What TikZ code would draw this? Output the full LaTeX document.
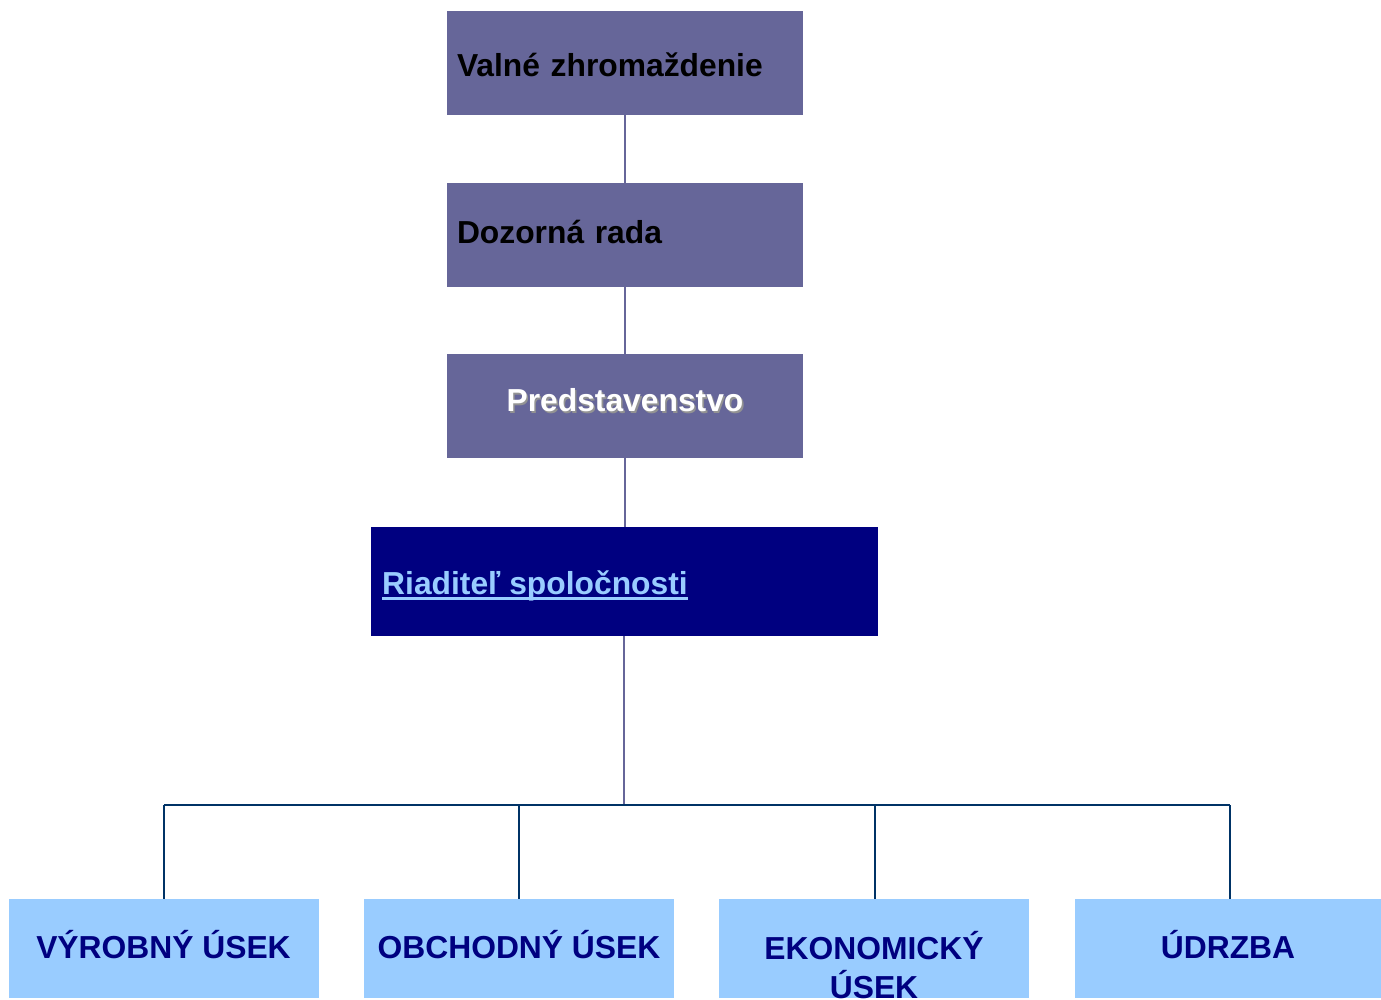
\documentclass[tikz,border=0pt]{standalone}
\usepackage{fontspec}
\setmainfont{Liberation Sans}
\definecolor{boxpurple}{HTML}{666699}
\definecolor{navybox}{HTML}{000080}
\definecolor{lightblue}{HTML}{99CCFF}
\definecolor{linkblue}{HTML}{003366}
\begin{document}
\begin{tikzpicture}[x=1pt,y=-1pt,
  bigfont/.style={font=\fontsize{31.8}{39}\selectfont\bfseries},
  topbox/.style={fill=boxpurple, draw=none, minimum width=356pt, minimum height=104pt,
    inner sep=0pt, bigfont, text depth=0pt},
  leftbox/.style={topbox, text width=336pt, align=left, inner xsep=10pt},
  unitbox/.style={fill=lightblue, draw=none, minimum width=310pt, minimum height=99pt,
    inner sep=0pt, bigfont, text=navybox, align=center, text height=19pt, text depth=0pt},
  upline/.style={draw=boxpurple, line width=2pt},
  lowline/.style={draw=linkblue, line width=2pt},
]
\useasboundingbox (0,0) rectangle (1381,999);
% top chain
\node[leftbox, text height=26pt] (vz) at (625,63) {Valné zhromaždenie};
\node[leftbox, text height=16pt] (dr) at (625,235) {Dozorná rada};
\node[topbox] (pr) at (625,406) {};
\node[bigfont, text=gray!85, inner sep=0pt, text height=11pt, text depth=0pt] (prs) at (626.6,407.6) {Predstavenstvo};
\node[bigfont, text=white, inner sep=0pt, text height=11pt, text depth=0pt] (prt) at (pr.center) {Predstavenstvo};
\node[fill=navybox, minimum width=507pt, minimum height=109pt, inner sep=0pt] (rs) at (624.5,581.5) {};
\node[bigfont, text=lightblue, inner sep=0pt, anchor=base west] (rst) at (382,594) {Riaditeľ spoločnosti};
\draw[draw=lightblue, line width=2.8pt] ([yshift=-4.5pt]rst.base west) -- ([yshift=-4.5pt]rst.base east);
% bottom units
\node[unitbox] (u1) at (163.5,948.5) {VÝROBNÝ ÚSEK};
\node[unitbox] (u2) at (519,948.5) {OBCHODNÝ ÚSEK};
\node[unitbox, text height=99pt] (u3) at (874,948.5) {EKONOMICKÝ\\ÚSEK};
\node[unitbox, minimum width=306pt] (u4) at (1228,948.5) {ÚDRZBA};
% connectors
\draw[upline] (vz.south) -- (dr.north);
\draw[upline] (dr.south) -- (pr.north);
\draw[upline] (pr.south) -- (pr.south |- rs.north);
\coordinate (bus) at (624,805);
\draw[upline] (rs.south -| bus) -- (bus);
\coordinate (b1) at (164,805);
\coordinate (b2) at (519,805);
\coordinate (b3) at (875,805);
\coordinate (b4) at (1230,805);
\draw[lowline] (b1) -- (b4);
\draw[lowline] (b1) -- (b1 |- u1.north);
\draw[lowline] (b2) -- (b2 |- u2.north);
\draw[lowline] (b3) -- (b3 |- u3.north);
\draw[lowline] (b4) -- (b4 |- u4.north);
\end{tikzpicture}
\end{document}
